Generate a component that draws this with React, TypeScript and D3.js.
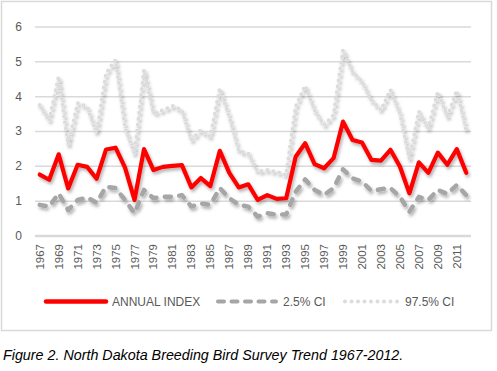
import React, { useEffect, useRef } from 'react'
import * as d3 from 'd3'

// survey years and indices
const years = d3.range(1967, 2013)
const annualIndex = [
  1.75, 1.6, 2.33, 1.35, 2.03, 1.97, 1.63, 2.47, 2.52, 1.95,
  1.02, 2.48, 1.88, 1.97, 2.0, 2.02, 1.38, 1.65, 1.42, 2.43,
  1.8, 1.38, 1.47, 1.02, 1.16, 1.05, 1.07, 2.26, 2.65, 2.05,
  1.93, 2.22, 3.27, 2.74, 2.67, 2.17, 2.15, 2.46, 1.98, 1.21,
  2.1, 1.8, 2.38, 2.03, 2.48, 1.8,
]
const ciLow = [
  0.88, 0.83, 1.21, 0.73, 1.02, 1.09, 0.94, 1.4, 1.36, 1.02,
  0.64, 1.31, 1.07, 1.11, 1.11, 1.16, 0.83, 0.92, 0.88, 1.36,
  1.07, 0.88, 0.83, 0.54, 0.64, 0.6, 0.6, 1.26, 1.61, 1.31,
  1.16, 1.36, 1.9, 1.64, 1.55, 1.28, 1.33, 1.36, 1.11, 0.68,
  1.11, 1.02, 1.31, 1.19, 1.45, 1.16,
]
const ciHigh = [
  3.75, 3.32, 4.56, 2.6, 3.8, 3.7, 2.94, 4.66, 5.04, 3.1,
  2.35, 4.75, 3.51, 3.6, 3.72, 3.6, 2.74, 3.03, 2.84, 4.23,
  3.41, 2.43, 2.36, 1.83, 1.88, 1.83, 1.74, 3.7, 4.3, 3.6,
  3.17, 3.46, 5.33, 4.7, 4.42, 3.89, 3.6, 4.18, 3.51, 2.2,
  3.56, 3.08, 4.13, 3.41, 4.16, 3.03,
]
const yTicks = [0, 1, 2, 3, 4, 5, 6]
const seriesNames = ['ANNUAL INDEX', '2.5% CI', '97.5% CI']

const W = 497
const H = 371
const font = '"Liberation Sans", Arial, sans-serif'

export default function App() {
  const ref = useRef<SVGSVGElement>(null)

  useEffect(() => {
    const svg = d3.select(ref.current)
    svg.selectAll('*').remove()

    const x = d3.scalePoint<number>().domain(years).range([35, 471]).padding(0.5)
    const y = d3.scaleLinear().domain([0, 6]).range([235.5, 26.5])

    const defs = svg.append('defs')
    const f = defs.append('filter').attr('id', 'shadow')
      .attr('x', '-10%').attr('y', '-20%').attr('width', '120%').attr('height', '150%')
    f.append('feDropShadow')
      .attr('dx', 1.5).attr('dy', 2.5).attr('stdDeviation', 1.6)
      .attr('flood-color', '#000').attr('flood-opacity', 0.3)

    svg.append('rect').attr('width', W).attr('height', H).attr('fill', '#fff')

    // chart frame
    svg.append('rect')
      .attr('x', 1.5).attr('y', 1.5).attr('width', 490).attr('height', 329)
      .attr('fill', 'none').attr('stroke', '#d9d9d9').attr('stroke-width', 1.5)

    // grid + y labels
    const gy = svg.append('g')
      .attr('transform', 'translate(35,0)')
      .call(d3.axisRight(y).tickValues(yTicks).tickSize(436).tickFormat(d3.format('d')))
    gy.select('.domain').remove()
    gy.selectAll('.tick line').attr('stroke', '#d9d9d9').attr('stroke-width', 1.5)
    gy.selectAll('.tick line').filter((d: any) => d === 0).attr('stroke-width', 2.5)
    gy.selectAll('.tick text')
      .attr('x', -13).attr('text-anchor', 'end')
      .attr('fill', '#595959').style('font', `12px ${font}`)

    // x labels every other year
    svg.append('g').selectAll('text')
      .data(years.filter((d, i) => i % 2 === 0))
      .join('text')
      .attr('transform', d => `translate(${(x(d) as number) + 4},244) rotate(-90)`)
      .attr('text-anchor', 'end')
      .attr('fill', '#595959')
      .style('font', `11.5px ${font}`)
      .text(d => d)

    const line = d3.line<number>()
      .x((d, i) => x(years[i]) as number)
      .y(d => y(d))

    const styles = [
      { data: annualIndex, color: '#ff0000', dash: null, w: 4.2 },
      { data: ciLow, color: '#a6a6a6', dash: '6 8.5', w: 4.5 },
      { data: ciHigh, color: '#dcdcdc', dash: '0 6', w: 4 },
    ]

    const lines = svg.append('g').attr('filter', 'url(#shadow)')
    ;[2, 1, 0].forEach(k => {
      const s = styles[k]
      lines.append('path')
        .attr('d', line(s.data))
        .attr('fill', 'none')
        .attr('stroke', s.color)
        .attr('stroke-width', s.w)
        .attr('stroke-linejoin', 'round')
        .attr('stroke-linecap', 'round')
        .attr('stroke-dasharray', s.dash)
    })

    // legend
    const legendX = [[46, 106, 112], [218, 276, 283], [345, 398, 405]]
    const lg = svg.append('g')
    seriesNames.forEach((name, k) => {
      const s = styles[k]
      const [x0, x1, tx] = legendX[k]
      lg.append('line')
        .attr('x1', x0).attr('x2', x1).attr('y1', 301.5).attr('y2', 301.5)
        .attr('stroke', s.color).attr('stroke-width', k === 0 ? 4.5 : 4)
        .attr('stroke-linecap', 'round')
        .attr('stroke-dasharray', k === 1 ? '6 7.5' : k === 2 ? '0 6.5' : null)
      lg.append('text')
        .attr('x', tx).attr('y', 306)
        .attr('fill', '#595959')
        .style('font', `12px ${font}`)
        .text(name)
    })

    svg.append('text')
      .attr('x', 3).attr('y', 360)
      .attr('fill', '#000')
      .style('font', `italic 14.3px ${font}`)
      .text('Figure 2. North Dakota Breeding Bird Survey Trend 1967-2012.')
  }, [])

  return (
    <svg ref={ref} width={W} height={H}
      style={{ position: 'absolute', left: 0, top: 0, background: '#fff' }} />
  )
}
